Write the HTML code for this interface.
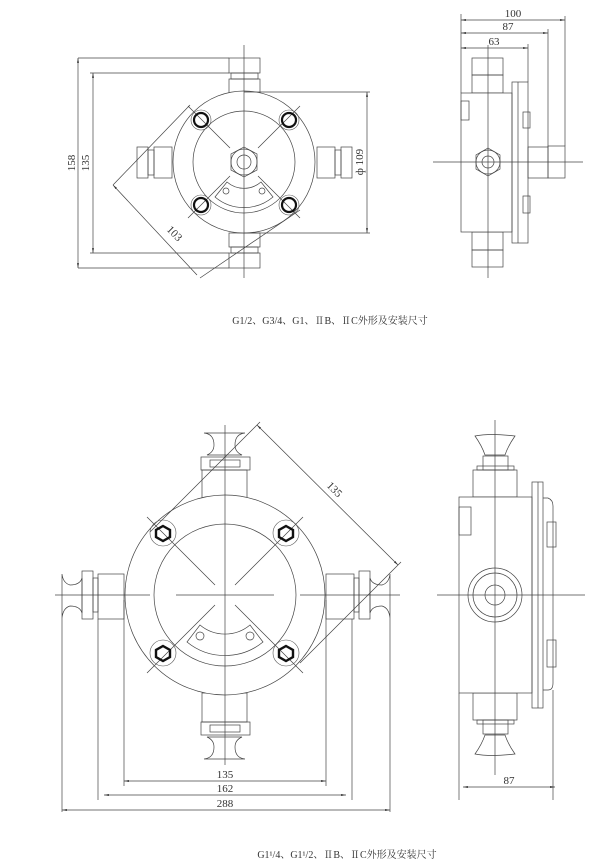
<!DOCTYPE html>
<html><head><meta charset="utf-8"><style>
html,body{margin:0;padding:0;background:#fff;width:600px;height:862px;overflow:hidden}
svg{display:block}
text{font-family:"Liberation Serif","Noto Serif CJK SC",serif;fill:#333}
</style></head><body>
<svg width="600" height="862" viewBox="0 0 600 862" xmlns="http://www.w3.org/2000/svg">
<defs>
<marker id="a" viewBox="0 0 10 4" refX="10" refY="2" markerWidth="7" markerHeight="3" orient="auto-start-reverse"><path d="M0,0L10,2L0,4z" fill="#333"/></marker>
</defs>
<g fill="none" stroke="#444" stroke-width="0.7">
<!-- ===== TOP FRONT VIEW ===== -->
<rect x="229" y="58" width="31" height="15"/><rect x="231" y="73" width="27" height="6"/><rect x="229" y="79" width="31" height="14"/>
<rect x="229" y="233" width="31" height="14"/><rect x="231" y="247" width="27" height="6"/><rect x="229" y="253" width="31" height="15"/>
<rect x="137" y="147" width="11" height="31"/><rect x="148" y="150" width="6" height="25"/><rect x="154" y="147" width="18" height="31"/>
<rect x="317" y="147" width="18" height="31"/><rect x="335" y="150" width="6" height="25"/><rect x="341" y="147" width="11" height="31"/>
<circle cx="244" cy="162" r="71" fill="#fff"/>
<circle cx="244" cy="162" r="51"/>
<polygon points="244,147 257,154 257,170 244,177 231,170 231,154"/>
<circle cx="244" cy="162" r="13"/><circle cx="244" cy="162" r="7"/>
<path d="M215,197 A45,45 0 0 0 273,197 L261,182 A26,26 0 0 1 227,182 Z"/>
<circle cx="226" cy="191" r="3"/><circle cx="262" cy="191" r="3"/>
<line x1="244" y1="45" x2="244" y2="278"/>
<line x1="188" y1="106" x2="230" y2="148"/><line x1="300" y1="106" x2="258" y2="148"/>
<line x1="188" y1="218" x2="230" y2="176"/><line x1="300" y1="218" x2="258" y2="176"/>
<!-- dims top -->
<line x1="78" y1="58" x2="229" y2="58"/><line x1="78" y1="268" x2="229" y2="268"/>
<line x1="90" y1="73" x2="229" y2="73"/><line x1="90" y1="253" x2="229" y2="253"/>
<line x1="78" y1="58" x2="78" y2="268" marker-start="url(#a)" marker-end="url(#a)"/>
<line x1="93" y1="73" x2="93" y2="253" marker-start="url(#a)" marker-end="url(#a)"/>
<line x1="244" y1="92" x2="370" y2="92"/><line x1="244" y1="233" x2="370" y2="233"/>
<line x1="367" y1="92" x2="367" y2="233" marker-start="url(#a)" marker-end="url(#a)"/>
<line x1="113" y1="185" x2="197" y2="275" marker-start="url(#a)"/>
<line x1="113" y1="185" x2="190" y2="105"/>
<line x1="200" y1="278" x2="300" y2="210"/>
</g>
<g stroke="#111" stroke-width="2.2" fill="none">
<circle cx="201" cy="120" r="7"/><circle cx="289" cy="120" r="7"/><circle cx="201" cy="205" r="7"/><circle cx="289" cy="205" r="7"/>
</g>
<g stroke="#555" stroke-width="0.6" fill="none">
<circle cx="201" cy="120" r="10"/><circle cx="289" cy="120" r="10"/><circle cx="201" cy="205" r="10"/><circle cx="289" cy="205" r="10"/>
</g>
<text x="75" y="163" font-size="11" transform="rotate(-90 75 163)" text-anchor="middle">158</text>
<text x="89" y="163" font-size="11" transform="rotate(-90 89 163)" text-anchor="middle">135</text>
<text x="363" y="162" font-size="11" transform="rotate(-90 363 162)" text-anchor="middle">ф 109</text>
<text x="172" y="236" font-size="11" transform="rotate(45 172 236)" text-anchor="middle">103</text>

<!-- ===== TOP SIDE VIEW ===== -->
<g fill="none" stroke="#444" stroke-width="0.7">
<rect x="472" y="58" width="31" height="17"/><rect x="472" y="75" width="31" height="18"/>
<rect x="472" y="232" width="31" height="18"/><rect x="472" y="250" width="31" height="17"/>
<rect x="461" y="93" width="51" height="139" fill="#fff"/>
<rect x="461" y="101" width="8" height="19"/>
<rect x="512" y="82" width="16" height="161"/><line x1="518" y1="82" x2="518" y2="243"/>
<rect x="523" y="112" width="7" height="16"/><rect x="523" y="196" width="7" height="17"/>
<rect x="528" y="147" width="20" height="31"/><rect x="548" y="146" width="17" height="32"/>
<polygon points="488,148 500,155 500,169 488,176 476,169 476,155"/>
<circle cx="488" cy="162" r="12"/><circle cx="488" cy="162" r="6"/>
<line x1="433" y1="162" x2="583" y2="162"/><line x1="488" y1="45" x2="488" y2="278"/>
<line x1="461" y1="14" x2="461" y2="93"/>
<line x1="528" y1="44" x2="528" y2="82"/><line x1="548" y1="29" x2="548" y2="147"/><line x1="565" y1="16" x2="565" y2="146"/>
<line x1="461" y1="20" x2="565" y2="20" marker-start="url(#a)" marker-end="url(#a)"/>
<line x1="461" y1="33" x2="548" y2="33" marker-start="url(#a)" marker-end="url(#a)"/>
<line x1="461" y1="48" x2="528" y2="48" marker-start="url(#a)" marker-end="url(#a)"/>
</g>
<text x="513" y="17" font-size="11" text-anchor="middle">100</text>
<text x="508" y="30" font-size="11" text-anchor="middle">87</text>
<text x="494" y="45" font-size="11" text-anchor="middle">63</text>
<text x="330" y="324" font-size="10" text-anchor="middle">G1/2、G3/4、G1、ⅡB、ⅡC外形及安装尺寸</text>

<!-- ===== BOTTOM FRONT VIEW ===== -->
<g fill="none" stroke="#444" stroke-width="0.7">
<path d="M204,433 Q214,434 214,445 Q214,452 207,455 L242,455 Q235,452 235,445 Q235,434 245,433 Z"/>
<rect x="201" y="457" width="49" height="13"/><rect x="210" y="460" width="30" height="7"/>
<rect x="202" y="470" width="45" height="28"/>
<path d="M204,759 Q214,758 214,747 Q214,740 207,737 L242,737 Q235,740 235,747 Q235,758 245,759 Z"/>
<rect x="201" y="722" width="49" height="13"/><rect x="210" y="725" width="30" height="7"/>
<rect x="202" y="693" width="45" height="29"/>
<path d="M62,574 Q63,583 70,585 Q80,585 82,578 L82,613 Q80,606 70,606 Q63,608 62,618 Z"/>
<rect x="82" y="571" width="11" height="48"/><rect x="93" y="578" width="5" height="34"/>
<rect x="98" y="574" width="26" height="45"/>
<path d="M390,574 Q389,583 382,585 Q372,585 370,578 L370,613 Q372,606 382,606 Q389,608 390,618 Z"/>
<rect x="359" y="571" width="11" height="48"/><rect x="354" y="578" width="5" height="34"/>
<rect x="326" y="574" width="28" height="45"/>
<circle cx="225" cy="595" r="100" fill="#fff"/>
<circle cx="225" cy="595" r="71"/>
<path d="M187,642 A60,60 0 0 0 263,642 L250,625 A39,39 0 0 1 200,625 Z"/>
<circle cx="200" cy="636" r="4"/><circle cx="250" cy="636" r="4"/>
<line x1="225" y1="425" x2="225" y2="765"/>
<line x1="55" y1="595" x2="150" y2="595"/><line x1="176" y1="595" x2="274" y2="595"/><line x1="300" y1="595" x2="400" y2="595"/>
<line x1="147" y1="517" x2="215" y2="585"/><line x1="303" y1="517" x2="235" y2="585"/>
<line x1="147" y1="673" x2="215" y2="605"/><line x1="303" y1="673" x2="235" y2="605"/>
<line x1="62" y1="618" x2="62" y2="812"/><line x1="98" y1="619" x2="98" y2="800"/><line x1="124" y1="600" x2="124" y2="786"/>
<line x1="326" y1="600" x2="326" y2="786"/><line x1="352" y1="619" x2="352" y2="800"/><line x1="390" y1="618" x2="390" y2="812"/>
<line x1="124" y1="781" x2="326" y2="781" marker-start="url(#a)" marker-end="url(#a)"/>
<line x1="104" y1="795" x2="346" y2="795" marker-start="url(#a)" marker-end="url(#a)"/>
<line x1="62" y1="810" x2="390" y2="810" marker-start="url(#a)" marker-end="url(#a)"/>
<line x1="257" y1="425" x2="398" y2="565" marker-start="url(#a)" marker-end="url(#a)"/>
<line x1="260" y1="422" x2="150" y2="532"/><line x1="401" y1="562" x2="300" y2="663"/>
</g>
<g stroke="#111" stroke-width="2.4" fill="none">
<polygon points="163,526 170,530 170,537 163,541 156,537 156,530"/>
<polygon points="286,526 293,530 293,537 286,541 279,537 279,530"/>
<polygon points="163,646 170,650 170,657 163,661 156,657 156,650"/>
<polygon points="286,646 293,650 293,657 286,661 279,657 279,650"/>
</g>
<g stroke="#555" stroke-width="0.6" fill="none">
<circle cx="163" cy="533" r="13"/><circle cx="286" cy="533" r="13"/><circle cx="163" cy="653" r="13"/><circle cx="286" cy="653" r="13"/>
</g>
<text x="225" y="778" font-size="11" text-anchor="middle">135</text>
<text x="225" y="792" font-size="11" text-anchor="middle">162</text>
<text x="225" y="807" font-size="11" text-anchor="middle">288</text>
<text x="332" y="492" font-size="11" transform="rotate(45 332 492)" text-anchor="middle">135</text>

<!-- ===== BOTTOM SIDE VIEW ===== -->
<g fill="none" stroke="#444" stroke-width="0.7">
<path d="M475,436 Q490,433 515,436 Q508,446 505,455 L485,455 Q482,446 475,436 Z"/>
<rect x="483" y="456" width="25" height="14"/><rect x="477" y="466" width="37" height="4"/>
<rect x="473" y="470" width="44" height="27"/>
<path d="M475,754 Q490,757 515,754 Q508,744 505,735 L485,735 Q482,744 475,754 Z"/>
<rect x="483" y="720" width="25" height="14"/><rect x="477" y="720" width="37" height="4"/>
<rect x="473" y="693" width="44" height="27"/>
<rect x="459" y="497" width="73" height="196" fill="#fff"/>
<rect x="459" y="507" width="12" height="28"/>
<rect x="532" y="482" width="11" height="226"/><line x1="538" y1="482" x2="538" y2="708"/>
<path d="M543,498 L548,498 Q553,500 553,506 L553,683 Q553,690 548,690 L543,690"/>
<rect x="547" y="522" width="9" height="25"/><rect x="547" y="640" width="9" height="27"/>
<circle cx="495" cy="595" r="27"/><circle cx="495" cy="595" r="22"/><circle cx="495" cy="595" r="10"/>
<line x1="437" y1="595" x2="585" y2="595"/><line x1="495" y1="420" x2="495" y2="775"/>
<line x1="459" y1="693" x2="459" y2="800"/><line x1="553" y1="690" x2="553" y2="800"/>
<line x1="463" y1="787" x2="555" y2="787" marker-start="url(#a)" marker-end="url(#a)"/>
</g>
<text x="509" y="784" font-size="11" text-anchor="middle">87</text>
<text x="347" y="858" font-size="10" text-anchor="middle">G1¹/4、G1¹/2、ⅡB、ⅡC外形及安装尺寸</text>
</svg>
</body></html>
